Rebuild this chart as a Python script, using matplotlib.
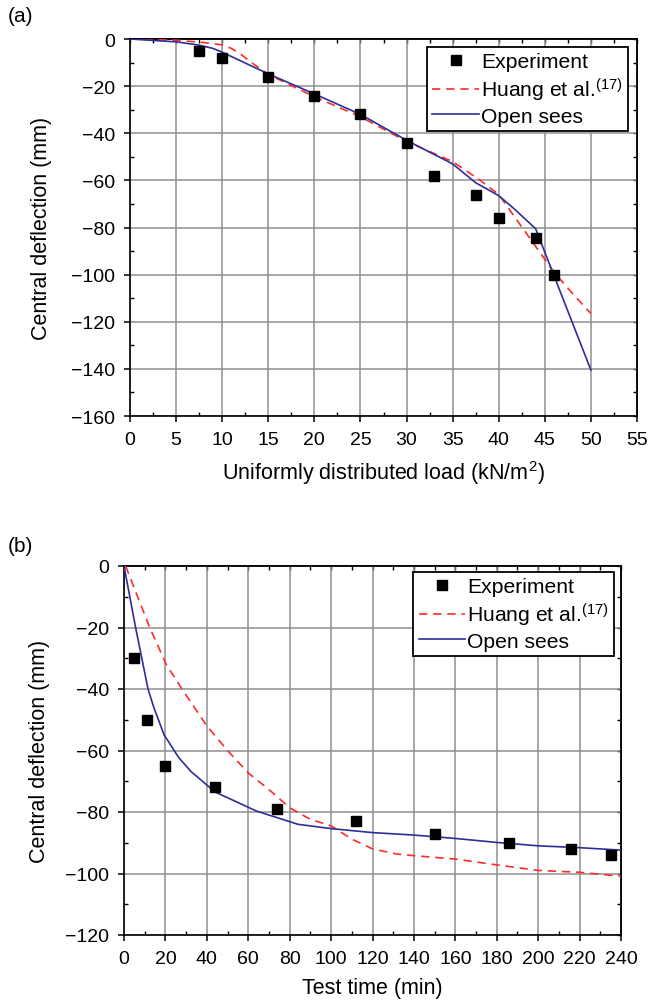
import numpy as np
import matplotlib
matplotlib.use("Agg")
from matplotlib import pyplot as plt
from matplotlib.ticker import MultipleLocator

plt.rcParams['font.family'] = ['Liberation Sans', 'DejaVu Sans']
plt.rcParams['mathtext.default'] = 'regular'

# panel (a): deflection vs uniformly distributed load
load_exp = [7.5, 10, 15, 20, 25, 30, 33, 37.5, 40, 44, 46]
defl_exp_a = [-5, -8, -16, -24, -32, -44, -58, -66, -76, -84.5, -100]

load_huang = [0, 5, 8, 10, 11, 12, 13, 15, 20, 25, 30, 35, 38, 40, 42, 44, 46, 48, 50]
defl_huang_a = [0, -0.5, -1.5, -2.5, -4, -6.4, -9.5, -15, -24.5, -33, -43.5, -52, -60, -66,
                -77, -88, -99, -108, -116.5]

load_os = [0, 5, 7.5, 9, 10, 15, 20, 25, 30, 35, 37.5, 40, 41.6, 44, 50]
defl_os_a = [0, -1.2, -2.6, -4, -5.6, -14.8, -23.3, -32, -43, -53, -61, -66.5, -71.8, -80.5, -140.5]

# panel (b): deflection vs test time
time_exp = [5, 11, 20, 44, 74, 112, 150, 186, 216, 235]
defl_exp_b = [-30, -50, -65, -72, -79, -83, -87, -90, -92, -94]

time_huang = [0.8, 2.8, 12.4, 20.4, 28.3, 40, 50, 60, 70, 80, 90, 100, 110, 120, 132, 140,
              160, 180, 200, 220, 240]
defl_huang_b = [0, -3.5, -20, -32, -40.3, -52, -60, -67.3, -72.7, -78.6, -82.4, -84.5, -88.8,
                -92, -93.7, -94.2, -95.3, -97.2, -99, -99.6, -100.9]

time_os = [0, 5.6, 11.6, 14.4, 19.4, 21, 26.3, 32.3, 44, 64, 84, 100, 120, 140, 160, 180,
           200, 220, 240]
defl_os_b = [0, -20, -40, -46, -55, -56.6, -62.2, -66.8, -73.5, -79.7, -84, -85.4, -86.7,
             -87.5, -88.6, -89.9, -91, -91.6, -92.4]

RED = '#ff2a2a'
BLUE = '#2e2e9a'
FS = 14
LFS = 15.5


def style(ax, xmax, xmaj, xmin, ymin):
    ax.set_xlim(0, xmax)
    ax.set_ylim(ymin, 0)
    ax.xaxis.set_major_locator(MultipleLocator(xmaj))
    ax.xaxis.set_minor_locator(MultipleLocator(xmin))
    ax.yaxis.set_major_locator(MultipleLocator(20))
    ax.yaxis.set_minor_locator(MultipleLocator(10))
    ax.grid(True, which='major', color='#8f8f8f', lw=1.1)
    ax.set_axisbelow(True)
    ax.tick_params(which='major', direction='out', length=4.5, width=1.1, labelsize=FS, pad=6)
    ax.tick_params(which='minor', direction='in', length=3, width=1.0)
    for s in ax.spines.values():
        s.set_linewidth(1.2)
    top = ax.secondary_xaxis('top')
    top.xaxis.set_major_locator(MultipleLocator(xmaj))
    top.xaxis.set_minor_locator(MultipleLocator(xmin))
    top.tick_params(which='both', direction='in', labeltop=False, length=3, width=1.0)
    top.spines['top'].set_linewidth(1.2)
    right = ax.secondary_yaxis('right')
    right.yaxis.set_major_locator(MultipleLocator(20))
    right.yaxis.set_minor_locator(MultipleLocator(10))
    right.tick_params(which='both', direction='in', labelright=False, length=3, width=1.0)
    right.spines['right'].set_linewidth(1.2)


def legend(ax, x, y):
    leg = ax.legend(loc='upper right', bbox_to_anchor=(x, y), fontsize=15.2, fancybox=False,
                    edgecolor='black', framealpha=1, borderaxespad=0, handlelength=2.2,
                    handletextpad=0.1, labelspacing=0.2, borderpad=0.25)
    leg.get_frame().set_linewidth(1.3)


fig = plt.figure(figsize=(6.5, 10.03), dpi=100)

ax1 = fig.add_axes([130 / 650, 1 - 417 / 1003, 507 / 650, 377 / 1003])
ax1.plot(load_exp, defl_exp_a, 's', color='black', ms=6.8, label='Experiment', zorder=4)
ax1.plot(load_huang, defl_huang_a, '--', color=RED, lw=1.2, dashes=(5, 3.5),
         label='Huang et al.$^{(17)}$', zorder=3)
ax1.plot(load_os, defl_os_a, '-', color=BLUE, lw=1.2, label='Open sees', zorder=3)
style(ax1, 55, 5, 2.5, -160)
ax1.set_xlabel('Uniformly distributed load (kN/m$^2$)', fontsize=LFS, va='center')
ax1.set_ylabel('Central deflection (mm)', fontsize=LFS, va='center')
ax1.xaxis.set_label_coords(0.5, -0.1485)
ax1.yaxis.set_label_coords(-0.1736, 0.5)
legend(ax1, 0.982, 0.979)

ax2 = fig.add_axes([124 / 650, 1 - 936 / 1003, 497 / 650, 369 / 1003])
ax2.plot(time_exp, defl_exp_b, 's', color='black', ms=6.8, label='Experiment', zorder=4)
ax2.plot(time_huang, defl_huang_b, '--', color=RED, lw=1.2, dashes=(5, 3.5),
         label='Huang et al.$^{(17)}$', zorder=3)
ax2.plot(time_os, defl_os_b, '-', color=BLUE, lw=1.2, label='Open sees', zorder=3)
style(ax2, 240, 20, 10, -120)
ax2.set_xlabel('Test time (min)', fontsize=LFS, va='center')
ax2.set_ylabel('Central deflection (mm)', fontsize=LFS, va='center')
ax2.xaxis.set_label_coords(0.5, -0.141)
ax2.yaxis.set_label_coords(-0.170, 0.5)
legend(ax2, 0.986, 0.984)

fig.text(8 / 650, 1 - 17 / 1003, '(a)', fontsize=15, va='center')
fig.text(8 / 650, 1 - 547 / 1003, '(b)', fontsize=15, va='center')

fig.savefig('out.png', dpi=100)
